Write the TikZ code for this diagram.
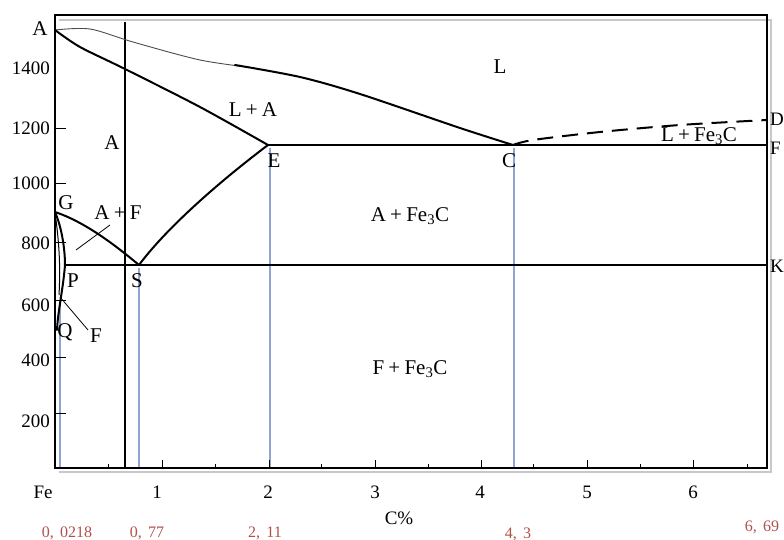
\documentclass[tikz,border=0pt]{standalone}
\usepackage{fontspec}
\setmainfont{Liberation Serif}
\definecolor{labred}{HTML}{B0524C}
\definecolor{guide}{HTML}{8EA6CF}
\definecolor{shadowgray}{HTML}{C8C8C8}
\newcommand\plusgap{\hspace{0.2em}+\hspace{0.2em}}
\begin{document}
\begin{tikzpicture}[x=1pt,y=-1pt,
  lbl/.style={font=\fontsize{21}{21}\selectfont, inner sep=0pt},
  edgelbl/.style={font=\fontsize{19}{19}\selectfont, inner sep=0pt, anchor=west},
  tick/.style={font=\fontsize{19}{19}\selectfont, inner sep=0pt},
  redlbl/.style={font=\fontsize{16}{16}\selectfont, text=labred, inner sep=0pt},
  phase/.style={line width=2pt, line join=round, line cap=round},
  thinphase/.style={line width=1pt},
  guideline/.style={guide, line width=1.3pt},
  frame/.style={line width=2.2pt}]
\useasboundingbox (0,0) rectangle (784,540);
% key points
\coordinate (A) at (55,30);
\coordinate (E) at (268,145);
\coordinate (C) at (513,145);
\coordinate (D) at (767,120);
\coordinate (F) at (767,145);
\coordinate (G) at (55,212);
\coordinate (P) at (65,265);
\coordinate (S) at (139,265);
\coordinate (K) at (767,265);
\coordinate (Q) at (57,330);
% frame shadow and frame
\draw[shadowgray, line width=2pt] (59,20) -- (771,20) -- (771,472) -- (59,472);
\draw[frame] (55,15) rectangle (767,468);
% blue guides
\draw[guideline] (60,300) -- (60,467);
\draw[guideline] (139,268) -- (139,467);
\draw[guideline] (270,148) -- (270,467);
\draw[guideline] (514,148) -- (514,467);
% vertical black line
\coordinate (V1) at (125,22);
\coordinate (V2) at (125,468);
\draw[line width=1.6pt] (V1) -- (V2);
% y ticks
\foreach \yy in {128,183,242,300,357,413} \draw[line width=0.8pt] (55,\yy) -- (66,\yy);
% x ticks
\foreach \xx in {162,269,375,481,587,693} \draw[line width=0.8pt] (\xx,468) -- (\xx,460);
\foreach \xx in {108,215,321,428,533,640,747} \draw[line width=0.8pt] (\xx,468) -- (\xx,464);
% liquidus AC
\draw[line width=0.9pt, black!70] plot[smooth] coordinates {(55,30) (90,29) (133,42) (200,60) (255,68)};
\draw[phase] plot[smooth] coordinates {(235,65) (300,77) (360,94) (460,128) (513,145)};
% solidus AE
\draw[phase] plot[smooth] coordinates {(A) (80,47) (125,69) (200,107) (E)};
% CD dashed
\draw[phase, line cap=butt, dash pattern=on 16pt off 9pt] plot[smooth] coordinates {(C) (533,140) (600,132) (680,125) (D)};
% ECF
\draw[phase] (E) -- (F);
% ES
\draw[phase] (E) .. controls (215,185) and (165,230) .. (S);
% GS
\draw[phase] (G) .. controls (85,222) and (115,245) .. (S);
% GP and PQ
\draw[phase] (G) .. controls (62,228) and (65,250) .. (P);
\draw[thinphase] (G) .. controls (58,235) and (61,260) .. (59,295);
\draw[phase] (P) .. controls (63,290) and (58,310) .. (Q);
% PSK
\draw[phase] (P) -- (K);
% pointers
\coordinate (af1) at (76,250); \coordinate (af2) at (110,225);
\draw[line width=0.8pt] (af1) -- (af2);
\coordinate (f1) at (60,297); \coordinate (f2) at (88,330);
\draw[line width=0.8pt] (f1) -- (f2);
% labels
\node[lbl] (lA) at (40,29) {A};
\node[tick, anchor=east] (t1400) at (50,68) {1400};
\node[tick, anchor=east] (t1200) at (50,128) {1200};
\node[tick, anchor=east] (t1000) at (50,183) {1000};
\node[tick, anchor=east] (t800) at (50,243) {800};
\node[tick, anchor=east] (t600) at (50,305) {600};
\node[tick, anchor=east] (t400) at (50,360) {400};
\node[tick, anchor=east] (t200) at (50,421) {200};
\node[lbl] (lL) at (500,67) {L};
\node[lbl] (lLA) at (253,110) {L\plusgap A};
\node[lbl] (lAA) at (112,143) {A};
\node[lbl] (lE) at (274,161) {E};
\node[lbl] (lC) at (509,161) {C};
\node[edgelbl] (lD) at (770,119) {D};
\node[edgelbl] (lF) at (770,148) {F};
\node[lbl] (lLFe) at (699,136) {L\plusgap Fe\textsubscript{3}C};
\node[lbl] (lAFe) at (410,216) {A\plusgap Fe\textsubscript{3}C};
\node[lbl] (lG) at (66,203) {G};
\node[lbl] (lAF) at (118,213) {A\plusgap F};
\node[edgelbl] (lK) at (770,266) {K};
\node[lbl] (lP) at (73,281) {P};
\node[lbl] (lS) at (137,281) {S};
\node[lbl] (lQ) at (65,332) {Q};
\node[lbl] (lF2) at (96,336) {F};
\node[lbl] (lFFe) at (410,369) {F\plusgap Fe\textsubscript{3}C};
\node[tick] (lFe) at (43,492) {Fe};
\node[tick] (x1) at (157,492) {1};
\node[tick] (x2) at (268,492) {2};
\node[tick] (x3) at (375,492) {3};
\node[tick] (x4) at (480,492) {4};
\node[tick] (x5) at (587,492) {5};
\node[tick] (x6) at (693,492) {6};
\node[tick] (xc) at (399,518) {C\%};
\node[redlbl] (r1) at (67,533) {0,\hspace{0.4em}0218};
\node[redlbl] (r2) at (147,533) {0,\hspace{0.4em}77};
\node[redlbl] (r3) at (265,533) {2,\hspace{0.4em}11};
\node[redlbl] (r4) at (518,534) {4,\hspace{0.4em}3};
\node[redlbl] (r5) at (762,527) {6,\hspace{0.4em}69};
\end{tikzpicture}
\end{document}
